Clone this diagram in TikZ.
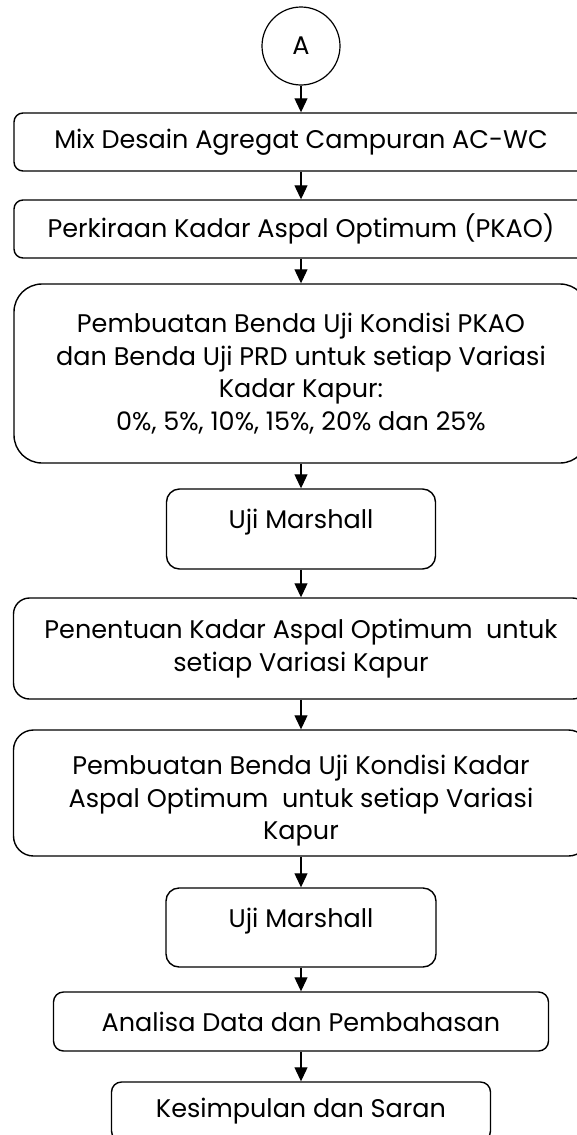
\documentclass[tikz,border=0pt]{standalone}
\usepackage{fontspec}
\setmainfont{Poppins}
\usepackage{tikz}
\usetikzlibrary{arrows.meta}
\tikzstyle{every node}=[font=\fontsize{25.5}{32.5}\selectfont, align=center, inner sep=0pt]
\tikzset{box/.style={draw, line width=1.4pt, rounded corners=#1},
         box/.default=9pt}
\tikzset{flow/.style={line width=1.1pt, -{Triangle[length=14pt,width=13pt]}}}

\begin{document}
\begin{tikzpicture}[x=1pt,y=-1pt]
    \useasboundingbox (0,0) rectangle (577,1135);
    \node[circle, draw, line width=1.2pt, minimum size=78pt] (A) at (301,46) {A};
    \node[box, minimum width=574pt, minimum height=58pt] (mix) at (301,142) {Mix Desain Agregat Campuran AC-WC};
    \node[box, minimum width=574pt, minimum height=58pt] (pkao) at (301,229) {Perkiraan Kadar Aspal Optimum (PKAO)};
    \node[box=28pt, minimum width=574pt, minimum height=179pt] (benda) at (301,373.5) {Pembuatan Benda Uji Kondisi PKAO\\dan Benda Uji PRD untuk setiap Variasi\\Kadar Kapur:\\0\%, 5\%, 10\%, 15\%, 20\% dan 25\%};
    \node[box=13pt, minimum width=269pt, minimum height=80pt, text depth=20pt] (marshall1) at (301,529) {Uji Marshall};
    \node[box=16pt, minimum width=575pt, minimum height=101pt] (kao) at (301,648.5) {Penentuan Kadar Aspal Optimum\ \ untuk\\setiap Variasi Kapur};
    \node[box=20pt, minimum width=575pt, minimum height=126pt] (bendakao) at (301,793) {\rule{0pt}{35pt}Pembuatan Benda Uji Kondisi Kadar\\Aspal Optimum\ \ untuk setiap Variasi\\Kapur};
    \node[box=13pt, minimum width=270pt, minimum height=79pt, text depth=20pt] (marshall2) at (301,927.5) {Uji Marshall};
    \node[box=10pt, minimum width=495pt, minimum height=59pt] (analisa) at (301,1021.5) {Analisa Data dan Pembahasan};
    \node[box=10pt, minimum width=379pt, minimum height=59pt] (saran) at (301,1111.5) {Kesimpulan dan Saran};

    \draw[flow] (A) -- (mix);
    \draw[flow] (mix) -- (pkao);
    \draw[flow] (pkao) -- (benda);
    \draw[flow] (benda) -- (marshall1);
    \draw[flow] (marshall1) -- (kao);
    \draw[flow] (kao) -- (bendakao);
    \draw[flow] (bendakao) -- (marshall2);
    \draw[flow] (marshall2) -- (analisa);
    \draw[flow] (analisa) -- (saran);
\end{tikzpicture}
\end{document}
